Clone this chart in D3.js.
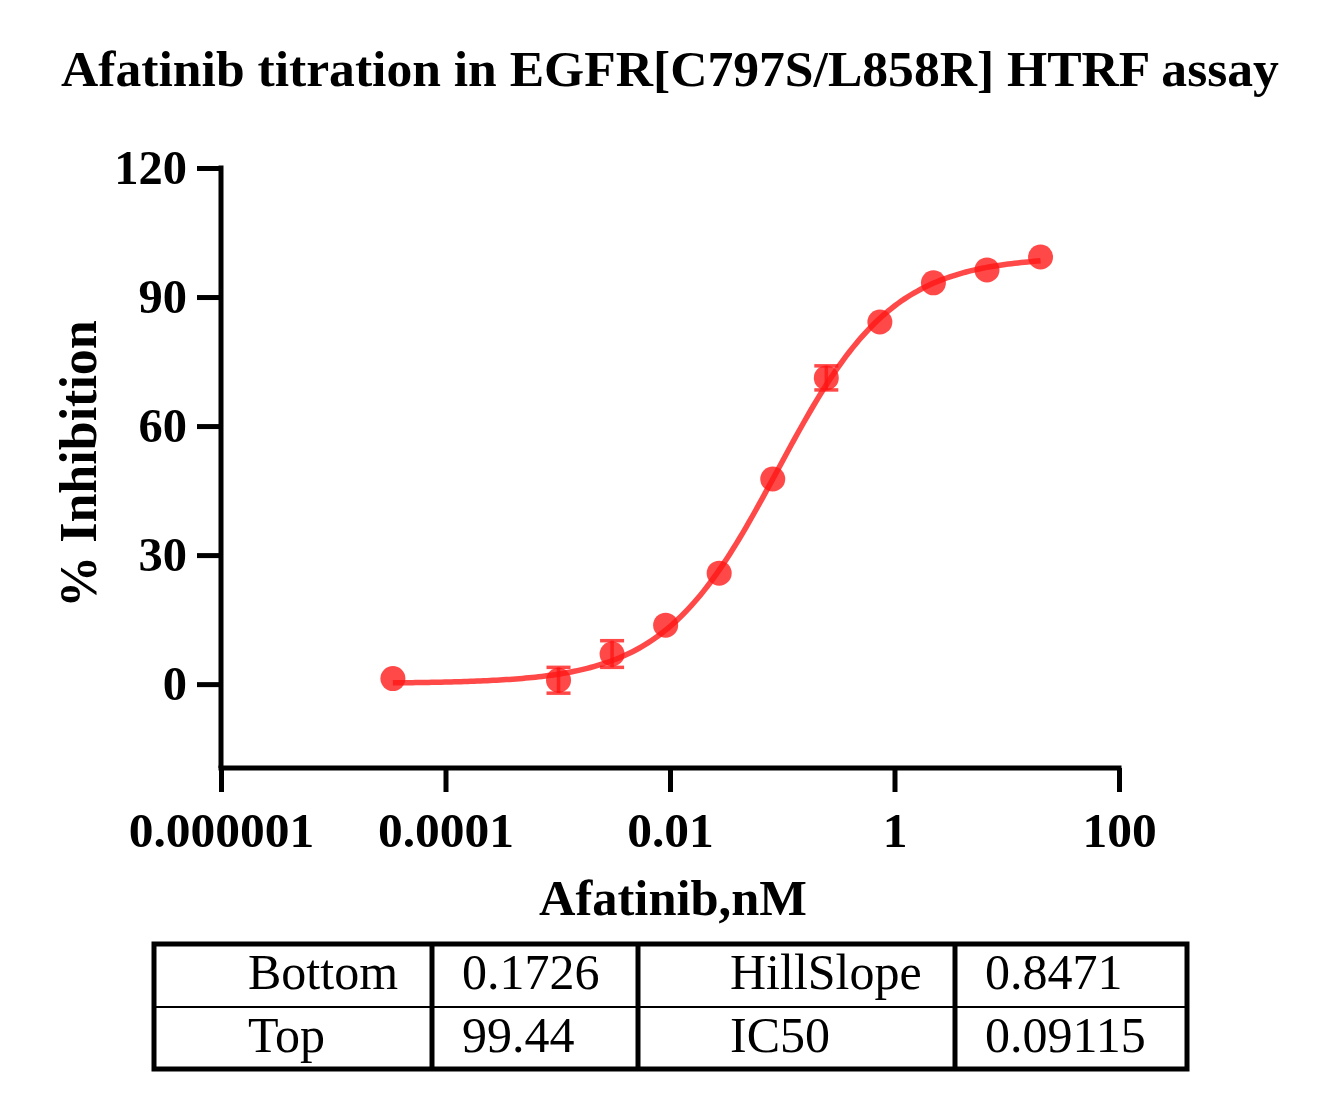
<!DOCTYPE html>
<html>
<head>
<meta charset="utf-8">
<script src="https://cdn.jsdelivr.net/npm/d3@7/dist/d3.min.js"></script>
<style>
  html, body { margin: 0; padding: 0; background: #fff; }
  svg { display: block; font-family: "Liberation Serif", "Times New Roman", serif; }
</style>
</head>
<body>
<svg id="chart" width="1322" height="1101"></svg>
<script>
// ---- Data ----
const titleText = "Afatinib titration in EGFR[C797S/L858R] HTRF assay";
const xTitle = "Afatinib,nM";
const yTitle = "% Inhibition";
const concentrations = [0.000034, 0.001016, 0.003048, 0.009145, 0.02743, 0.0823, 0.2469, 0.7407, 2.222, 6.667, 20];
const inhibition = [1.3, 0.9, 7.0, 13.7, 25.8, 47.7, 71.2, 84.2, 93.3, 96.3, 99.3];
const errors = [0, 3.0, 3.1, 0, 0, 0, 2.8, 0, 0, 0, 0];
const xTicks = [1e-6, 1e-4, 1e-2, 1, 100];
const xTickLabels = ["0.000001", "0.0001", "0.01", "1", "100"];
const yTicks = [0, 30, 60, 90, 120];
const paramNames = ["Bottom", "Top", "HillSlope", "IC50"];
const paramValues = ["0.1726", "99.44", "0.8471", "0.09115"];

// fitted 4PL parameters (from the table)
const fitBottom = +paramValues[0], fitTop = +paramValues[1], fitHill = +paramValues[2], fitIC50 = +paramValues[3];

const svg = d3.select("#chart");
const red = "rgba(255,20,20,0.78)";

const x = d3.scaleLog().domain([1e-6, 100]).range([221, 1119]);
const y = d3.scaleLinear().domain([-19.5, 120]).range([768, 168]);

// Title
svg.append("text")
  .attr("x", 670).attr("y", 86)
  .attr("text-anchor", "middle")
  .attr("font-size", 51.6).attr("font-weight", "bold")
  .text(titleText);

// Axes
const yAxis = d3.axisLeft(y).tickValues(yTicks).tickSize(24).tickSizeOuter(0).tickPadding(10)
  .tickFormat(d3.format("d"));
const gy = svg.append("g").attr("transform", "translate(221,0)").call(yAxis);
gy.select(".domain").attr("stroke", "#000").attr("stroke-width", 5).attr("d", `M0,${y(120) - 2.5}V${768}`);
gy.selectAll(".tick line").attr("stroke", "#000").attr("stroke-width", 5);
gy.selectAll(".tick text").attr("font-size", 48.5).attr("font-weight", "bold")
  .attr("font-family", "Liberation Serif, Times New Roman, serif").attr("fill", "#000");

const xAxis = d3.axisBottom(x).tickValues(xTicks).tickSize(24).tickSizeOuter(0).tickPadding(20)
  .tickFormat((d, i) => xTickLabels[i]);
const gx = svg.append("g").attr("transform", "translate(0,768)").call(xAxis);
gx.select(".domain").attr("stroke", "#000").attr("stroke-width", 5).attr("d", `M218.5,0H${1119 + 2.5}`);
gx.selectAll(".tick line").attr("stroke", "#000").attr("stroke-width", 5);
gx.selectAll(".tick text").attr("font-size", 49.5).attr("font-weight", "bold")
  .attr("font-family", "Liberation Serif, Times New Roman, serif").attr("fill", "#000");

// Axis titles
svg.append("text")
  .attr("x", 673).attr("y", 915)
  .attr("text-anchor", "middle")
  .attr("font-size", 50.5).attr("font-weight", "bold")
  .text(xTitle);
svg.append("text")
  .attr("transform", "translate(96,464) rotate(-90)")
  .attr("text-anchor", "middle")
  .attr("font-size", 52).attr("font-weight", "bold")
  .text(yTitle);

// Fitted curve (4PL using the fitted parameters shown in the table)
const lx0 = Math.log10(d3.min(concentrations)), lx1 = Math.log10(d3.max(concentrations));
const curvePts = d3.range(0, 201).map(i => {
  const c = Math.pow(10, lx0 + (lx1 - lx0) * i / 200);
  return [c, fitBottom + (fitTop - fitBottom) / (1 + Math.pow(fitIC50 / c, fitHill))];
});
svg.append("path")
  .datum(curvePts)
  .attr("fill", "none").attr("stroke", red).attr("stroke-width", 5.5)
  .attr("d", d3.line().x(d => x(d[0])).y(d => y(d[1])));

// Points
const pts = concentrations.map((c, i) => ({ c, v: inhibition[i], e: errors[i] }));
svg.append("g").selectAll("circle").data(pts).join("circle")
  .attr("cx", d => x(d.c)).attr("cy", d => y(d.v)).attr("r", 12.5)
  .attr("fill", red);

// Error bars
const eb = svg.append("g").attr("stroke", red).attr("stroke-width", 3.5);
pts.filter(d => d.e > 0).forEach(d => {
  const cx = x(d.c);
  eb.append("line").attr("x1", cx).attr("x2", cx).attr("y1", y(d.v + d.e)).attr("y2", y(d.v - d.e));
  eb.append("line").attr("x1", cx - 12).attr("x2", cx + 12).attr("y1", y(d.v + d.e)).attr("y2", y(d.v + d.e));
  eb.append("line").attr("x1", cx - 12).attr("x2", cx + 12).attr("y1", y(d.v - d.e)).attr("y2", y(d.v - d.e));
});

// Parameter table
const tbl = svg.append("g");
const colX = [154, 432, 638, 955, 1187];
const rowY = [944, 1007, 1069];
tbl.append("rect").attr("x", colX[0]).attr("y", rowY[0])
  .attr("width", colX[4] - colX[0]).attr("height", rowY[2] - rowY[0])
  .attr("fill", "none").attr("stroke", "#000").attr("stroke-width", 5);
[1, 2, 3].forEach(i => tbl.append("line")
  .attr("x1", colX[i]).attr("x2", colX[i]).attr("y1", rowY[0]).attr("y2", rowY[2])
  .attr("stroke", "#000").attr("stroke-width", 5));
tbl.append("line").attr("x1", colX[0]).attr("x2", colX[4]).attr("y1", rowY[1]).attr("y2", rowY[1])
  .attr("stroke", "#000").attr("stroke-width", 2);
const textX = [248, 462, 730, 985];
const baseY = [989, 1052];
const cells = [
  { n: paramNames[0], v: paramValues[0], r: 0, c: 0 },
  { n: paramNames[1], v: paramValues[1], r: 1, c: 0 },
  { n: paramNames[2], v: paramValues[2], r: 0, c: 2 },
  { n: paramNames[3], v: paramValues[3], r: 1, c: 2 }
];
cells.forEach(d => {
  tbl.append("text").attr("x", textX[d.c]).attr("y", baseY[d.r]).attr("font-size", 50).text(d.n);
  tbl.append("text").attr("x", textX[d.c + 1]).attr("y", baseY[d.r]).attr("font-size", 50).text(d.v);
});
</script>
</body>
</html>
